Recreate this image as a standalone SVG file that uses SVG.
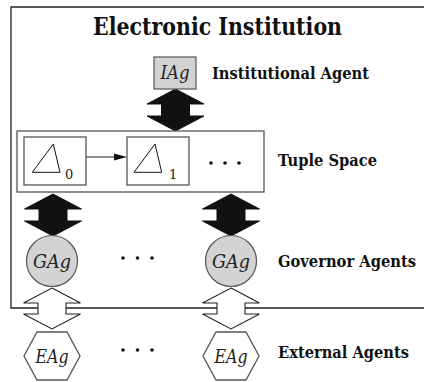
<svg xmlns="http://www.w3.org/2000/svg" width="425" height="382" viewBox="0 0 425 382">
  <style>
    text { font-family: 'DejaVu Serif', serif; }
    .title { font-weight: bold; font-size: 24px; fill: #111; }
    .label { font-weight: bold; font-size: 16px; fill: #111; }
    .agent { font-style: italic; font-size: 18px; fill: #222; text-anchor: middle; }
    .sub { font-size: 13px; fill: #222; }
    .frame { fill: none; stroke: #222; stroke-width: 1.3; }
    .box { fill: #fff; stroke: #555; stroke-width: 1.3; }
    .gray { fill: #d3d3d3; stroke: #555; stroke-width: 1.2; }
    .tri { fill: none; stroke: #111; stroke-width: 1; }
    .dot { fill: #111; }
  </style>
  <defs>
    <!-- solid two-way arrow, centred on x=0, top tip at y=0 -->
    <path id="solid-arrow" d="M0,0 L28.5,15 L14,15 L14,27 L28.5,27 L0,42 L-28.5,27 L-14,27 L-14,15 L-28.5,15 Z" fill="#111" stroke="#111" stroke-width="1"/>
    <!-- hollow two-way arrow, centred on x=0, top tip at y=0 -->
    <path id="hollow-arrow" d="M0,0 L28.5,15 L14,15 L14,26 L28.5,26 L0,41 L-28.5,26 L-14,26 L-14,15 L-28.5,15 Z" fill="#fff" stroke="#222" stroke-width="1.1"/>
  </defs>

  <!-- institution boundary (open on the right) -->
  <path class="frame" d="M424,7 H11 V308 H424"/>
  <text class="title" x="93" y="35" textLength="249" lengthAdjust="spacingAndGlyphs">Electronic Institution</text>

  <g id="connectors">
    <use href="#solid-arrow" x="175.5" y="89"/>
    <use href="#solid-arrow" x="53" y="194"/>
    <use href="#solid-arrow" x="231" y="194"/>
    <use href="#hollow-arrow" x="52" y="288"/>
    <use href="#hollow-arrow" x="231" y="288"/>
  </g>

  <g id="institutional-agent">
    <rect class="gray" x="154" y="57" width="42" height="32"/>
    <text class="agent" x="175" y="79" textLength="29" lengthAdjust="spacingAndGlyphs">IAg</text>
    <text class="label" x="212" y="79" textLength="157" lengthAdjust="spacingAndGlyphs">Institutional Agent</text>
  </g>

  <g id="tuple-space">
    <rect class="box" x="17" y="131" width="247" height="61"/>
    <g id="tuple-0">
      <rect class="box" x="24" y="137" width="62" height="48"/>
      <polygon class="tri" points="32.3,172.3 53.3,144 60,172.3"/>
      <text class="sub" x="65" y="179">0</text>
    </g>
    <g id="tuple-1">
      <rect class="box" x="127" y="137" width="62" height="48"/>
      <polygon class="tri" points="134,172.3 155,144 161.7,172.3"/>
      <text class="sub" x="169" y="179">1</text>
    </g>
    <g id="tuple-link">
      <line x1="86" y1="157" x2="115" y2="157" stroke="#555" stroke-width="1.3"/>
      <polygon points="114,153.5 127,157 114,160.5" fill="#111"/>
    </g>
    <circle class="dot" cx="211" cy="163" r="1.8"/>
    <circle class="dot" cx="225" cy="163" r="1.8"/>
    <circle class="dot" cx="239" cy="163" r="1.8"/>
    <text class="label" x="278" y="166" textLength="99" lengthAdjust="spacingAndGlyphs">Tuple Space</text>
  </g>

  <g id="governor-agent-1">
    <circle class="gray" cx="52" cy="261" r="25.5"/>
    <text class="agent" x="52" y="268" textLength="38" lengthAdjust="spacingAndGlyphs">GAg</text>
  </g>
  <g id="governor-agent-2">
    <circle class="gray" cx="231" cy="261" r="25.5"/>
    <text class="agent" x="231" y="268" textLength="38" lengthAdjust="spacingAndGlyphs">GAg</text>
  </g>
  <g id="governor-ellipsis">
    <circle class="dot" cx="123" cy="258" r="1.8"/>
    <circle class="dot" cx="137.5" cy="258" r="1.8"/>
    <circle class="dot" cx="152" cy="258" r="1.8"/>
  </g>
  <text class="label" x="278" y="267" font-size="15" textLength="138" lengthAdjust="spacingAndGlyphs">Governor Agents</text>

  <g id="external-agent-1">
    <polygon class="box" points="24,356 37,332 67,332 80,356 67,380 37,380" stroke="#333"/>
    <text class="agent" x="52" y="363" textLength="33" lengthAdjust="spacingAndGlyphs">EAg</text>
  </g>
  <g id="external-agent-2">
    <polygon class="box" points="203,356 216,332 246,332 259,356 246,380 216,380" stroke="#333"/>
    <text class="agent" x="231" y="363" textLength="33" lengthAdjust="spacingAndGlyphs">EAg</text>
  </g>
  <g id="external-ellipsis">
    <circle class="dot" cx="123" cy="350" r="1.8"/>
    <circle class="dot" cx="137.5" cy="350" r="1.8"/>
    <circle class="dot" cx="152" cy="350" r="1.8"/>
  </g>
  <text class="label" x="278" y="358" textLength="131" lengthAdjust="spacingAndGlyphs">External Agents</text>
</svg>
